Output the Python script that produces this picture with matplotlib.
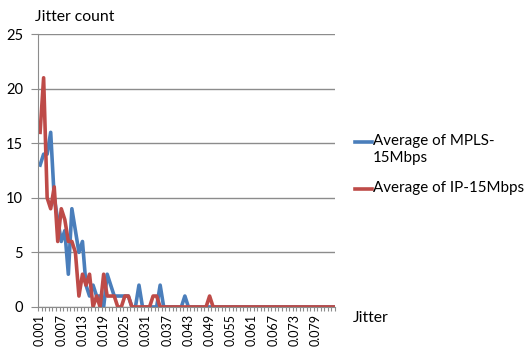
import numpy as np
import matplotlib.pyplot as plt
from matplotlib.lines import Line2D

plt.rcParams['font.family'] = ['Lato', 'DejaVu Sans']

# jitter categories 0.001 .. 0.084
jitter = [round(0.001 * (i + 1), 3) for i in range(84)]

mpls = [13, 14, 14, 16, 10, 8, 6, 7, 3, 9, 7, 5, 6, 2, 1, 2, 1, 1, 0, 3,
        2, 1, 1, 1, 1, 1, 0, 0, 2, 0, 0, 0, 0, 0, 2, 0, 0, 0, 0, 0,
        0, 1] + [0] * 42
ip = [16, 21, 10, 9, 11, 6, 9, 8, 6, 6, 5, 1, 3, 2, 3, 0, 1, 0, 3, 1,
      1, 1, 0, 0, 1, 1, 0, 0, 0, 0, 0, 0, 1, 1, 0, 0, 0, 0, 0, 0,
      0, 0, 0, 0, 0, 0, 0, 0, 1] + [0] * 35

names = ['Average of MPLS-\n15Mbps', 'Average of IP-15Mbps']
blue = '#4A7EBB'
red = '#BE4B48'

fig = plt.figure(figsize=(5.25, 3.52), dpi=100)
ax = fig.add_axes([0.073, 0.128, 0.565, 0.775])

x = np.arange(len(jitter))
ax.plot(x, mpls, color=blue, linewidth=2.6)
ax.plot(x, ip, color=red, linewidth=2.6)

ax.set_xlim(-0.5, len(jitter) - 0.5)
ax.set_ylim(0, 25)
ax.set_yticks([0, 5, 10, 15, 20, 25])
ax.yaxis.grid(True, color='#8c8c8c', linewidth=1)
ax.set_axisbelow(True)

major = x[::6]
ax.set_xticks(major)
ax.set_xticklabels(['%.3f' % jitter[i] for i in major], rotation=90, fontsize=9)
ax.set_xticks(np.arange(-0.5, len(jitter), 1), minor=True)
ax.tick_params(axis='x', which='major', length=0, pad=5)
ax.tick_params(axis='x', which='minor', length=3, color='#8c8c8c', width=0.8)
ax.tick_params(axis='y', length=5, color='#8c8c8c', labelsize=10.5, pad=6)

for s in ['top', 'right']:
    ax.spines[s].set_visible(False)
for s in ['left', 'bottom']:
    ax.spines[s].set_color('#8c8c8c')

fig.text(0.067, 0.94, 'Jitter count', fontsize=11.3)
fig.text(0.673, 0.085, 'Jitter', fontsize=11.3)

# legend, handle level with the first text line
for yy, name, c in [(0.596, names[0], blue), (0.462, names[1], red)]:
    fig.add_artist(Line2D([0.677, 0.709], [yy, yy], color=c, linewidth=2.6))
    fig.text(0.711, yy + 0.024, name, fontsize=10.9, va='top', linespacing=1.3)

fig.savefig('out.png', dpi=100)
